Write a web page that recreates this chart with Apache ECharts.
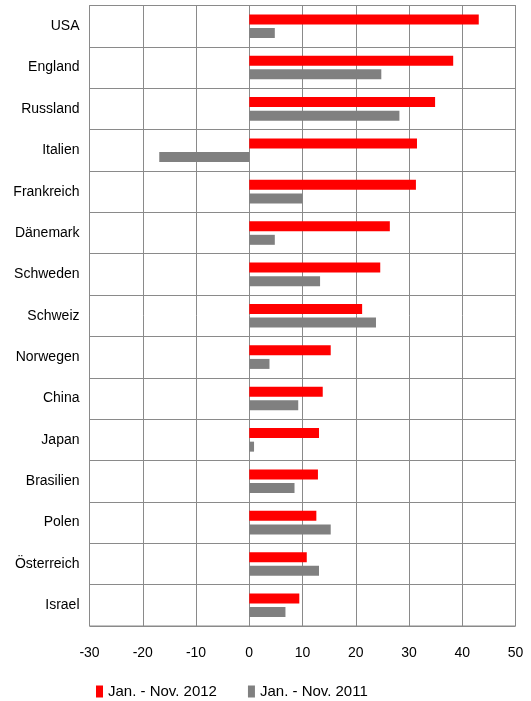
<!DOCTYPE html>
<html>
<head>
<meta charset="utf-8">
<script src="https://cdn.jsdelivr.net/npm/echarts@6/dist/echarts.min.js"></script>
<style>html,body{margin:0;padding:0;background:#fff}#c{width:531px;height:701px}</style>
</head>
<body>
<div id="c"></div>
<script>
const categories = ['USA','England','Russland','Italien','Frankreich','Dänemark','Schweden','Schweiz','Norwegen','China','Japan','Brasilien','Polen','Österreich','Israel'];
const values2012 = [43.1, 38.3, 34.9, 31.5, 31.3, 26.4, 24.6, 21.2, 15.3, 13.8, 13.1, 12.9, 12.6, 10.8, 9.4];
const values2011 = [4.8, 24.8, 28.2, -16.9, 10.0, 4.8, 13.3, 23.8, 3.8, 9.2, 0.9, 8.5, 15.3, 13.1, 6.8];
const seriesNames = ['Jan. - Nov. 2012', 'Jan. - Nov. 2011'];

const FONT = '"Liberation Sans", Arial, sans-serif';
const chart = echarts.init(document.getElementById('c'), null, {renderer: 'canvas'});
chart.setOption({
  animation: false,
  backgroundColor: '#fff',
  textStyle: {fontFamily: FONT},
  grid: {left: 89.5, right: 15.5, top: 5.5, bottom: 75, show: true, borderColor: '#888', borderWidth: 1, containLabel: false},
  legend: {
    top: 679, left: 91,
    icon: 'rect',
    itemWidth: 7, itemHeight: 12, itemGap: 31,
    textStyle: {fontFamily: FONT, fontSize: 15, color: '#000', padding: [0, 0, 0, 0]},
    data: seriesNames
  },
  xAxis: {
    type: 'value', min: -30, max: 50, interval: 10,
    axisLine: {show: false}, axisTick: {show: false},
    axisLabel: {fontFamily: FONT, fontSize: 14, color: '#000', margin: 20},
    splitLine: {show: true, lineStyle: {color: '#8a8a8a', width: 1}}
  },
  yAxis: {
    type: 'category', data: categories, inverse: true,
    axisLine: {show: false, onZero: false}, axisTick: {show: false},
    axisLabel: {fontFamily: FONT, fontSize: 14, color: '#000', margin: 10},
    splitLine: {show: true, lineStyle: {color: '#8a8a8a', width: 1}}
  },
  series: [
    {name: seriesNames[0], type: 'bar', data: values2012, barWidth: 10, barGap: '36%',
     itemStyle: {color: '#ff0000'}},
    {name: seriesNames[1], type: 'bar', data: values2011, barWidth: 10, barGap: '36%',
     itemStyle: {color: '#808080'}}
  ]
});
</script>
</body>
</html>
